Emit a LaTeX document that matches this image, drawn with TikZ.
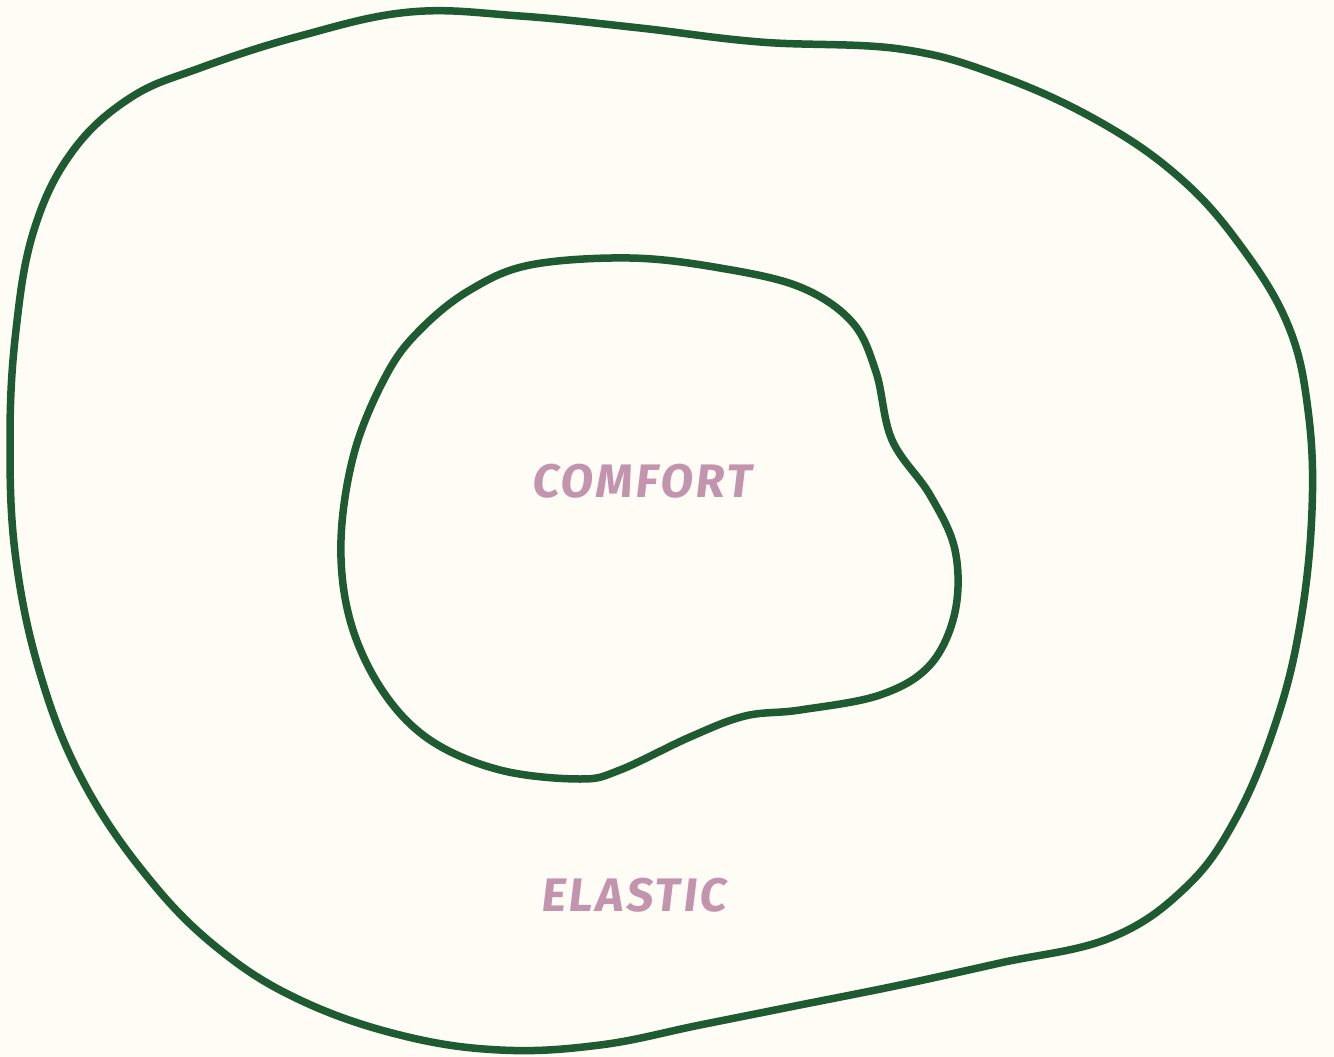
\documentclass[tikz,border=0pt]{standalone}
\usepackage{fontspec}
\newfontfamily\handfont[FakeSlant=0.12,LetterSpace=6]{Fira Sans}
\definecolor{bgcol}{HTML}{FEFCF5}
\definecolor{ringcol}{HTML}{1E5A32}
\definecolor{labelcol}{HTML}{C394AE}
\begin{document}
\begin{tikzpicture}[x=1pt,y=-1pt,
  ring/.style={draw=ringcol,line width=7.5pt,line join=round},
  zonelabel/.style={text=labelcol,font=\handfont\bfseries\fontsize{47}{56}\selectfont,inner sep=0pt}]
\fill[bgcol] (0,0) rectangle (1334,1057);
\useasboundingbox (0,0) rectangle (1334,1057);
% outer ring
\draw[ring] plot[smooth cycle,tension=0.65] coordinates {
 (410,12) (520,16) (640,28) (760,42) (900,49) (1000,76) (1100,122) (1180,178)
 (1240,245) (1288,325) (1308,410) (1312,510) (1300,625) (1275,725) (1235,820)
 (1185,888) (1110,938) (1000,963) (900,985) (800,1005) (700,1025) (600,1045)
 (500,1050) (400,1035) (300,1000) (220,950) (150,880) (85,785) (42,680)
 (16,560) (10,440) (16,330) (34,230) (72,152) (130,98) (200,68) (300,36)};
% inner ring
\draw[ring] plot[smooth cycle,tension=0.6] coordinates {
 (470,290) (530,265) (630,258) (720,268) (800,287) (852,322) (876,372)
 (892,440) (930,495) (955,550) (955,612) (930,665) (880,695) (800,710)
 (745,716) (690,737) (620,770) (580,779) (500,770) (430,740) (382,690)
 (350,620) (341,540) (355,450) (388,372) (422,328)};
\node[zonelabel] (comfort) at (641,481) {COMFORT};
\node[zonelabel] (elastic) at (633,895) {ELASTIC};
\end{tikzpicture}
\end{document}
